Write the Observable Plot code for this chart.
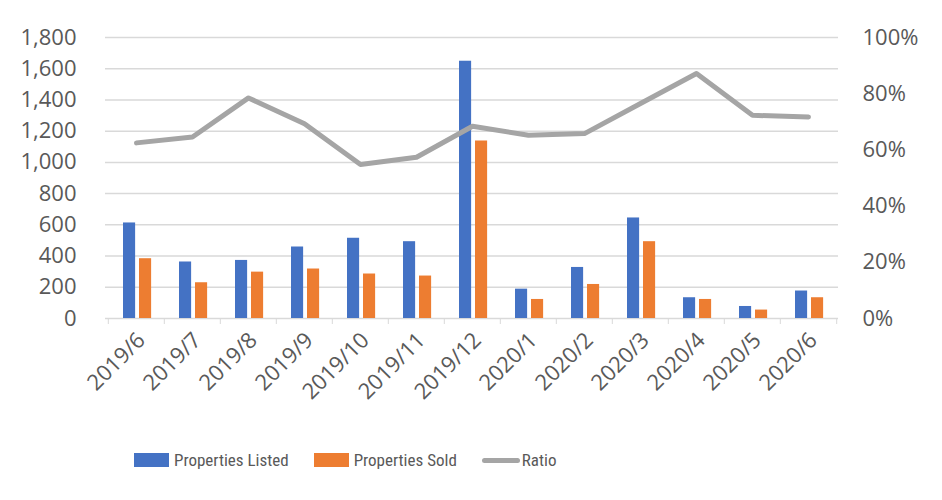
<!DOCTYPE html>
<html><head><meta charset="utf-8">
<script src="https://cdn.jsdelivr.net/npm/d3@7"></script>
<script src="https://cdn.jsdelivr.net/npm/@observablehq/plot@0.6"></script>
<style>
body{margin:0;background:#fff;font-family:"Open Sans",sans-serif;}
#legend{position:relative;width:942px;height:40px;display:flex;align-items:center;padding-left:134px;box-sizing:border-box;color:#595959;font-size:17px;font-family:"Liberation Sans Narrow","Roboto Condensed",Roboto,sans-serif;}
#legend .item{display:flex;align-items:center;margin-right:25px;}
#legend .sw{width:35px;height:14px;margin-right:5px;}
#legend .ln{width:38px;height:5px;border-radius:3px;margin-right:2px;}
</style></head><body><div id="chart"></div><div id="legend"></div><script>
const months = ["2019/6","2019/7","2019/8","2019/9","2019/10","2019/11","2019/12","2020/1","2020/2","2020/3","2020/4","2020/5","2020/6"];
const listed = [612,362,372,458,514,492,1648,188,327,644,133,77,176];
const sold = [383,229,297,317,285,272,1137,122,218,492,122,54,133];
const ratio = [62.5,64.6,78.5,69.3,54.8,57.4,68.4,65.2,65.8,76.5,87.2,72.3,71.7];
const leftTicks = [0,200,400,600,800,1000,1200,1400,1600,1800];
const rightTicks = [0,20,40,60,80,100];
const seriesNames = ["Properties Listed","Properties Sold","Ratio"];
const colors = ["#4472c4","#ed7d31","#a5a5a5"];

const yMax = 1800;
const W = 942, mL = 105, mR = 104;
const bw = (W - mL - mR) / months.length;
const data = months.map((m,i)=>({month:m, listed:listed[i], sold:sold[i], ratio:ratio[i]}));

const chart = Plot.plot({
  width: W, height: 440, marginLeft: mL, marginRight: mR, marginTop: 37, marginBottom: 122,
  style: {fontFamily: "Open Sans", fontSize: "22px", background: "#fff"},
  x: {type: "band", domain: months, padding: 0, label: null},
  y: {domain: [0, yMax], label: null},
  marks: [
    Plot.gridY(leftTicks.slice(1), {stroke: "#d9d9d9", strokeOpacity: 1, strokeWidth: 1.5}),
    Plot.ruleY([0], {stroke: "#d9d9d9", strokeWidth: 1.5}),
    Plot.axisX({tickSize: 6, tickFormat: () => "", dx: -bw/2, color: "#d9d9d9", label: null}),
    Plot.axisX({ticks: months.slice(-1), tickSize: 6, tickFormat: () => "", dx: bw/2, color: "#d9d9d9", label: null}),
    Plot.axisX({tickSize: 0, tickPadding: 18, tickRotate: -45, dx: 5, fontSize: 22, color: "#595959", label: null}),
    Plot.axisY({anchor: "left", ticks: leftTicks, tickFormat: d3.format(","), tickSize: 0, tickPadding: 29, color: "#595959", label: null}),
    Plot.axisY({anchor: "right", ticks: rightTicks.map(p => p / 100 * yMax), tickFormat: d => `${Math.round(d / yMax * 100)}%`, tickSize: 0, tickPadding: 24, color: "#595959", label: null}),
    Plot.barY(data, {x: "month", y: "listed", fill: colors[0], insetLeft: 15, insetRight: bw - 27.5}),
    Plot.barY(data, {x: "month", y: "sold", fill: colors[1], insetLeft: 31, insetRight: bw - 43.5}),
    Plot.line(data, {x: "month", y: d => d.ratio / 100 * yMax, stroke: colors[2], strokeWidth: 5, strokeLinejoin: "round", strokeLinecap: "round"})
  ]
});
document.getElementById("chart").appendChild(chart);

const legend = document.getElementById("legend");
seriesNames.forEach((n, i) => {
  const it = document.createElement("div");
  it.className = "item";
  const s = document.createElement("div");
  s.className = i < 2 ? "sw" : "ln";
  s.style.background = colors[i];
  const t = document.createElement("span");
  t.textContent = n;
  it.appendChild(s); it.appendChild(t);
  legend.appendChild(it);
});
</script></body></html>
